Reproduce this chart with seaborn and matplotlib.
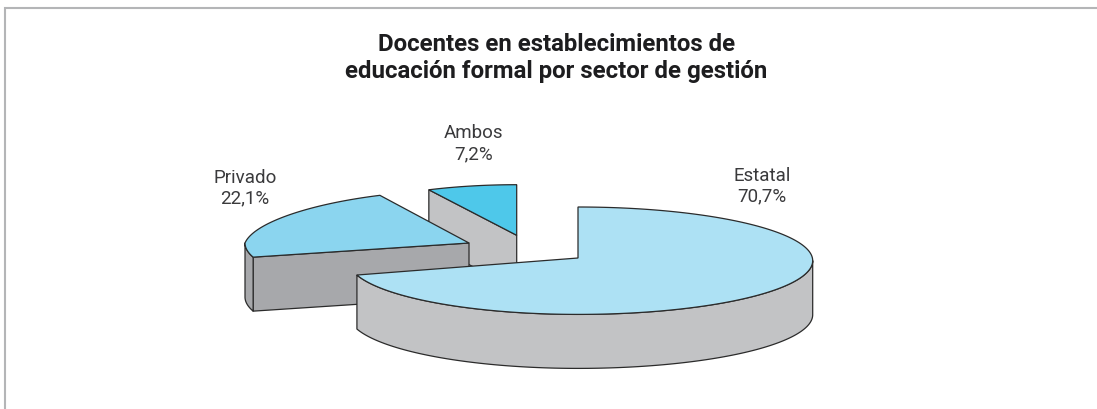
import numpy as np
import seaborn as sns
import matplotlib.pyplot as plt
from matplotlib.patches import Polygon

# values from the picture
sectors = ['Estatal', 'Privado', 'Ambos']
shares = [70.7, 22.1, 7.2]
value_labels = ['70,7%', '22,1%', '7,2%']
title = 'Docentes en establecimientos de\neducación formal por sector de gestión'

# look of each slice, exploded by hand like the original
tips = [(578, 258, 260.7), (469, 243, 243), (516.7, 235.3, 235.3)]  # x, y of cut, y of ellipse centre
radii_x = [234.7, 224, 201]
radii_x_left = [229.4, 224, 201]
radii_y = [53.7, 53, 50.6]
depths = [54, 54, 54]
taper = [0, 0.1, 0]
top_colors = sns.color_palette(['#ADE1F4', '#8BD5EF', '#4EC8EA'])
wall_colors = sns.color_palette(['#C2C3C5', '#A7A8AB', '#C2C3C5'])
label_pos = [(762, 186), (245, 188), (473.5, 143.5)]
edge = '#2b2b2b'

sns.set_theme(style='white')
plt.rcParams['font.family'] = ['Roboto', 'Liberation Sans', 'DejaVu Sans']

fig = plt.figure(figsize=(10.97, 4.09), dpi=100)
ax = fig.add_axes([0, 0, 1, 1])
ax.set_xlim(0, 1097)
ax.set_ylim(409, 0)
ax.axis('off')

# frame around the chart
ax.plot([5.3, 5.3, 1097], [409, 7.8, 7.8], color='#B4B5B7', lw=1.5, solid_joinstyle='miter')

stops = np.cumsum([0] + shares) / np.sum(shares) * 360


def arc(i, a, b):
    t = np.radians(np.linspace(a, b, 200))
    k = 1 - taper[i] * np.maximum(np.cos(t), 0)
    rx = np.where(np.sin(t) < 0, radii_x_left[i], radii_x[i])
    x = tips[i][0] + rx * np.sin(t) * k
    y = tips[i][2] - radii_y[i] * np.cos(t)
    return x, y


def wall(i, x, y):
    px = np.r_[x, x[::-1]]
    py = np.r_[y, (y + depths[i])[::-1]]
    ax.add_patch(Polygon(np.c_[px, py], fc=wall_colors[i], ec=edge, lw=0.9, joinstyle='round'))


# back to front: Ambos, Privado, Estatal
for i in [2, 1, 0]:
    start, end = stops[i], stops[i + 1]
    tx, ty = tips[i][0], tips[i][1]

    # cut faces that look at the viewer
    for angle, seen in [(start, np.sin(np.radians(start)) < -1e-6), (end, np.sin(np.radians(end)) > 1e-6)]:
        if seen:
            ex, ey = arc(i, angle, angle)
            wall(i, np.r_[ex[0], tx], np.r_[ey[0], ty])

    # outer wall, only the front half of the rim
    lo, hi = max(start, 90), min(end, 270)
    if lo < hi:
        wall(i, *arc(i, lo, hi))

    # top surface
    x, y = arc(i, start, end)
    ax.add_patch(Polygon(np.c_[np.r_[tx, x], np.r_[ty, y]], fc=top_colors[i], ec=edge, lw=0.9))

    ax.text(label_pos[i][0], label_pos[i][1], sectors[i] + '\n' + value_labels[i],
            ha='center', va='center', fontsize=13.5, color='#3a3a3c', linespacing=1.2)

ax.text(556.5, 58, title, ha='center', va='center', fontsize=17.3, fontweight='bold',
        color='#1d1d1f', linespacing=1.2)

plt.savefig('out.png', dpi=100)
